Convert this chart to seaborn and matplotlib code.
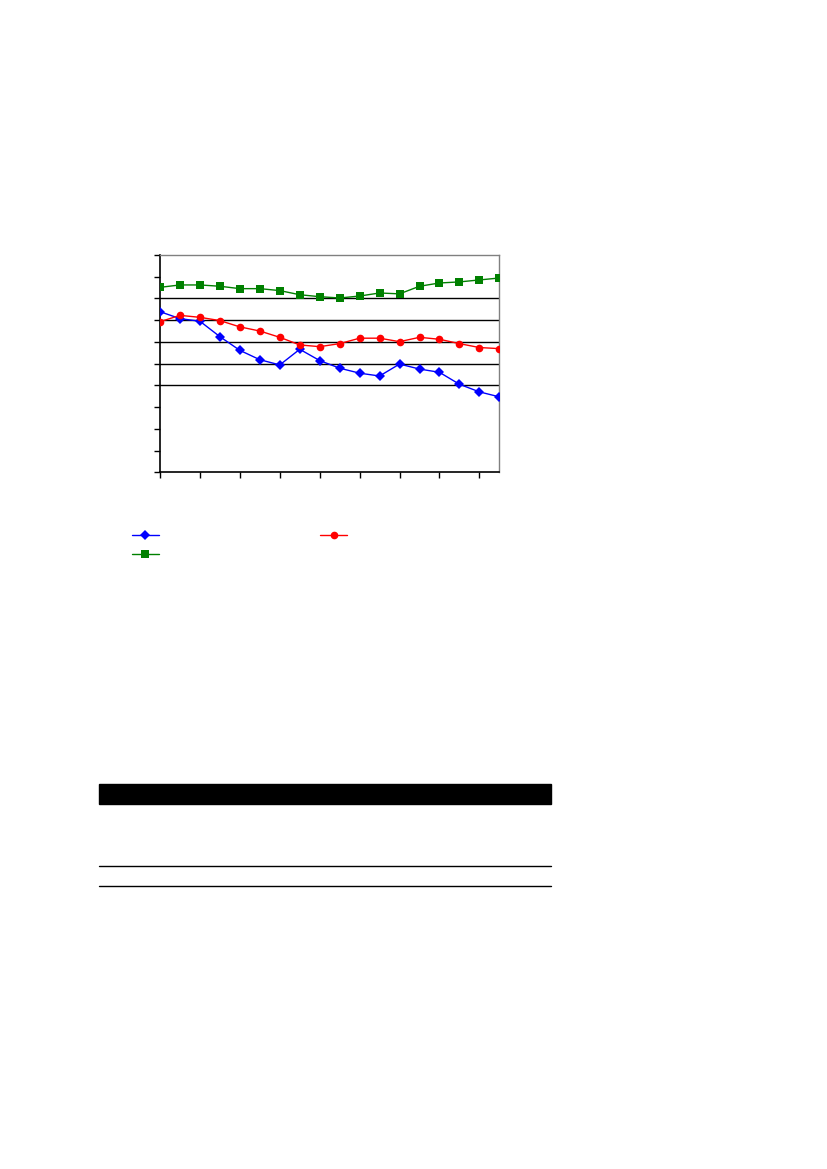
import pandas as pd
import matplotlib.pyplot as plt
import seaborn as sns
from matplotlib.lines import Line2D
from matplotlib.patches import Rectangle

# values (y axis 0..100, no labels shown)
periods = list(range(18))
blue_vals = [73.9, 70.7, 69.5, 62.4, 56.1, 51.8, 49.4, 56.6, 51.4, 47.9,
             45.6, 44.3, 49.8, 47.5, 46.0, 40.5, 37.0, 34.7]
red_vals = [69.3, 72.2, 71.3, 69.8, 66.9, 65.0, 62.1, 58.6, 57.8, 59.2,
            61.7, 61.7, 60.1, 62.1, 61.2, 59.2, 57.4, 56.9]
green_vals = [85.1, 86.2, 86.2, 85.6, 84.5, 84.5, 83.6, 81.7, 80.8, 80.2,
              81.1, 82.5, 82.1, 85.6, 87.1, 87.6, 88.5, 89.4]
series_names = ["A", "B", "C"]
colors = {"A": "#0000ff", "B": "#ff0000", "C": "#008000"}
markers = {"A": "D", "B": "o", "C": "s"}

df = pd.concat([
    pd.DataFrame({"x": periods, "v": vals, "series": name})
    for name, vals in zip(series_names, [blue_vals, red_vals, green_vals])
])

sns.set_style("white")
fig = plt.figure(figsize=(8.27, 11.69), dpi=100)
ax = fig.add_axes([0.1935, 0.5960, 0.4103, 0.1859])

# gridlines only at the middle values, like the original
for g in [40, 50, 60, 70, 80]:
    ax.axhline(g, color="black", lw=1.0, zorder=1)

sns.lineplot(data=df, x="x", y="v", hue="series", style="series",
             palette=colors, markers=markers, dashes=False, linewidth=1.0,
             markersize=5.5, markeredgewidth=0, legend=False, ax=ax, zorder=3)

ax.set_xlim(0, 17)
ax.set_ylim(0, 100)
ax.set_xticks(range(0, 17, 2))
ax.set_yticks(range(0, 101, 10))
ax.set_xticklabels([])
ax.set_yticklabels([])
ax.set_xlabel("")
ax.set_ylabel("")
ax.tick_params(axis="both", direction="out", length=4, width=1, color="black",
               left=True, bottom=True)
for side in ["left", "bottom"]:
    ax.spines[side].set_color("black")
    ax.spines[side].set_linewidth(1.2)
for side in ["top", "right"]:
    ax.spines[side].set_color("#808080")
    ax.spines[side].set_linewidth(1.0)

# legend without text, blue / red on first row, green below
handles = [Line2D([], [], color=colors[s], marker=markers[s], lw=1.0,
                  markersize=5.5, markeredgewidth=0) for s in ["A", "C", "B"]]
fig.legend(handles, [" ", " ", " "], ncol=2, loc="upper left",
           bbox_to_anchor=(0.1596, 0.5470), frameon=False, fontsize=9,
           handlelength=2.15, handletextpad=0.0, columnspacing=12.6,
           borderpad=0, borderaxespad=0, labelspacing=0.45)

# table header bar and rules below the chart
fig.add_artist(Rectangle((0.1197, 0.3120), 0.5466, 0.0171,
                         transform=fig.transFigure, color="black"))
for yy in [0.2595, 0.2423]:
    fig.add_artist(Line2D([0.1197, 0.6663], [yy, yy],
                          transform=fig.transFigure, color="black", lw=1.0))

fig.savefig("out.png", dpi=100)
